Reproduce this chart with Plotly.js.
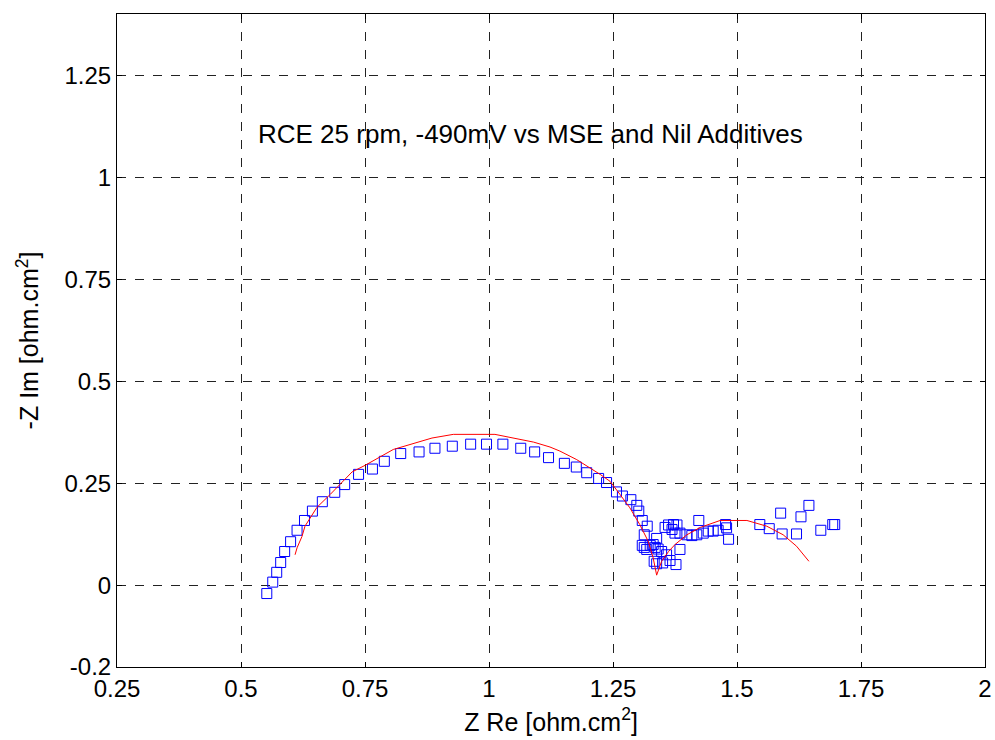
<!DOCTYPE html>
<html><head><meta charset="utf-8">
<script src="https://cdn.plot.ly/plotly-3.0.1.min.js"></script>
<style>html,body{margin:0;padding:0;background:#fff}#chart{width:995px;height:740px}</style>
</head><body><div id="chart"></div>
<script>
const measZRe = [0.552,0.564,0.572,0.580,0.588,0.600,0.613,0.628,0.644,0.664,0.689,0.709,0.737,0.765,0.789,0.822,0.859,0.891,0.926,0.963,0.995,1.028,1.064,1.092,1.120,1.152,1.176,1.197,1.221,1.237,1.257,1.269,1.286,1.298,1.302,1.309,1.319,1.313,1.309,1.313,1.318,1.325,1.331,1.338,1.335,1.341,1.348,1.333,1.338,1.350,1.358,1.365,1.377,1.385,1.355,1.362,1.372,1.379,1.369,1.375,1.385,1.399,1.409,1.419,1.423,1.432,1.442,1.452,1.462,1.477,1.479,1.483,1.546,1.565,1.588,1.591,1.620,1.629,1.645,1.669,1.693,1.697];
const measZIm = [-0.020,0.008,0.032,0.056,0.083,0.107,0.135,0.159,0.182,0.205,0.228,0.247,0.272,0.285,0.304,0.323,0.327,0.336,0.341,0.346,0.346,0.346,0.336,0.327,0.313,0.299,0.290,0.276,0.262,0.252,0.229,0.219,0.210,0.196,0.182,0.159,0.145,0.124,0.098,0.093,0.088,0.098,0.100,0.115,0.093,0.089,0.083,0.059,0.053,0.055,0.075,0.061,0.051,0.088,0.142,0.148,0.149,0.148,0.137,0.128,0.128,0.124,0.122,0.124,0.159,0.128,0.133,0.133,0.135,0.149,0.141,0.113,0.149,0.139,0.177,0.126,0.126,0.168,0.196,0.135,0.149,0.149];
const fitZRe = [0.609,0.613,0.623,0.629,0.653,0.680,0.724,0.750,0.807,0.885,0.928,1.012,1.090,1.123,1.143,1.177,1.224,1.244,1.264,1.284,1.304,1.321,1.331,1.338,1.348,1.362,1.375,1.399,1.426,1.466,1.520,1.560,1.593,1.620,1.645];
const fitZIm = [0.075,0.092,0.120,0.145,0.191,0.223,0.278,0.294,0.333,0.361,0.370,0.370,0.351,0.339,0.329,0.308,0.272,0.255,0.223,0.190,0.149,0.108,0.067,0.025,0.059,0.083,0.100,0.124,0.142,0.159,0.159,0.145,0.124,0.096,0.059];
const xTicks = [0.25,0.5,0.75,1,1.25,1.5,1.75,2];
const xTickText = ['0.25','0.5','0.75','1','1.25','1.5','1.75','2'];
const yTicks = [-0.2,0,0.25,0.5,0.75,1,1.25];
const yTickText = ['-0.2','0','0.25','0.5','0.75','1','1.25'];
const noteText = 'RCE 25 rpm, -490mV vs MSE and Nil Additives';

const traces = [
  {x: measZRe, y: measZIm, type:'scatter', mode:'markers',
   marker:{symbol:'square-open', size:10, color:'#0000ff', line:{width:1, color:'#0000ff'}}},
  {x: fitZRe, y: fitZIm, type:'scatter', mode:'lines', line:{color:'#ff0000', width:1}}
];
const axisCommon = {showline:true, linecolor:'#000', linewidth:1, mirror:'ticks', ticks:'inside', ticklen:5, tickcolor:'#000',
  showgrid:true, gridcolor:'#222', gridwidth:1, griddash:'dash', zeroline:false, tickmode:'array', automargin:false};
const layout = {
  width:995, height:740, showlegend:false, plot_bgcolor:'#fff', paper_bgcolor:'#fff',
  margin:{l:117, r:10, t:14, b:73},
  font:{family:'Liberation Sans, Arial, sans-serif', color:'#000'},
  xaxis: Object.assign({}, axisCommon, {range:[0.25,2], tickvals:xTicks, ticktext:xTickText, tickfont:{size:24}, ticklabelstandoff:0,
    title:{text:'Z Re [ohm.cm<sup>2</sup>]', font:{size:25}, standoff:12}}),
  yaxis: Object.assign({}, axisCommon, {range:[-0.2,1.4], tickvals:yTicks, ticktext:yTickText, tickfont:{size:24}, ticklabelstandoff:0,
    title:{text:'-Z Im [ohm.cm<sup>2</sup>]', font:{size:25}, standoff:18}}),
  annotations:[{x:1.083, y:1.107, xref:'x', yref:'y', text:noteText, showarrow:false, font:{size:26}}]
};
Plotly.newPlot('chart', traces, layout, {displayModeBar:false});
</script></body></html>
